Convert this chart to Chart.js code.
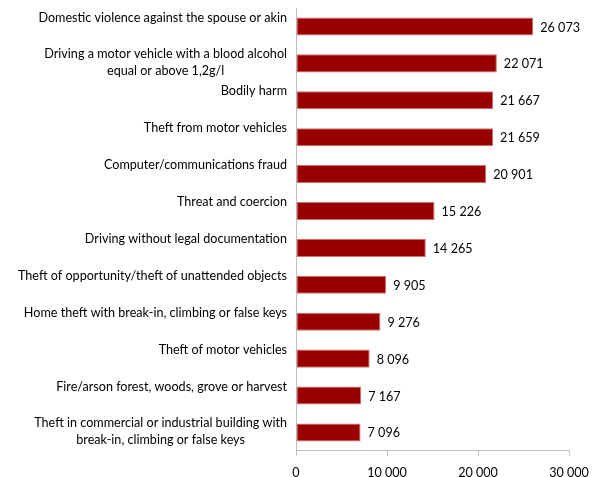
<!DOCTYPE html>
<html>
<head>
<meta charset="utf-8">
<script src="https://cdn.jsdelivr.net/npm/chart.js@4"></script>
<style>
  html, body { margin: 0; padding: 0; background: #fff; }
  #wrap { width: 598px; height: 477px; position: relative; }
</style>
</head>
<body>
<div id="wrap"><canvas id="crimes"></canvas></div>
<script>
let categories = [
    ['Domestic violence against the spouse or akin'],
    ['Driving a motor vehicle with a blood alcohol', 'equal or above 1,2g/l'],
    ['Bodily harm'],
    ['Theft from motor vehicles'],
    ['Computer/communications fraud'],
    ['Threat and coercion'],
    ['Driving without legal documentation'],
    ['Theft of opportunity/theft of unattended objects'],
    ['Home theft with break-in, climbing or false keys'],
    ['Theft of motor vehicles'],
    ['Fire/arson forest, woods, grove or harvest'],
    ['Theft in commercial or industrial building with', 'break-in, climbing or false keys'],
];
let counts = [26073, 22071, 21667, 21659, 20901, 15226, 14265, 9905, 9276, 8096, 7167, 7096];
let xTicks = [0, 10000, 20000, 30000];

const fontFamily = 'Lato, "Open Sans", sans-serif';
const fontSize = 12.6;

function spaced(n) {
    return String(n).replace(/\B(?=(\d{3})+(?!\d))/g, ' ');
}

// category labels: block right aligned next to the axis, lines centred inside it
const sideLabels = {
    id: 'sideLabels',
    afterDraw(chart) {
        const ctx = chart.ctx;
        const yScale = chart.scales.y;
        const right = chart.chartArea.left - 9;
        ctx.save();
        ctx.font = fontSize + 'px ' + fontFamily;
        ctx.fillStyle = '#000';
        ctx.textBaseline = 'middle';
        ctx.textAlign = 'center';
        categories.forEach((lines, i) => {
            const w = Math.max(...lines.map(l => ctx.measureText(l).width));
            const cx = right - w / 2;
            const y0 = yScale.getPixelForTick(i) - 9;
            lines.forEach((l, k) => ctx.fillText(l, cx, y0 + k * 17));
        });
        ctx.restore();
    }
};

// value labels just past the end of each bar
const valueLabels = {
    id: 'valueLabels',
    afterDatasetsDraw(chart) {
        const ctx = chart.ctx;
        const meta = chart.getDatasetMeta(0);
        ctx.save();
        ctx.font = fontSize + 'px ' + fontFamily;
        ctx.fillStyle = '#000';
        ctx.textBaseline = 'middle';
        ctx.textAlign = 'left';
        meta.data.forEach((bar, i) => {
            ctx.fillText(spaced(counts[i]), bar.x + 7, bar.y + 1);
        });
        ctx.restore();
    }
};

new Chart(document.getElementById('crimes'), {
    type: 'bar',
    data: {
        labels: categories.map(c => c.join(' ')),
        datasets: [{
            data: counts,
            backgroundColor: '#990000',
            borderColor: '#d07272',
            borderWidth: 1,
            borderSkipped: false,
            barPercentage: 0.49,
            categoryPercentage: 1,
        }]
    },
    options: {
        indexAxis: 'y',
        responsive: true,
        maintainAspectRatio: false,
        animation: false,
        layout: { padding: { left: 288, right: 29, top: 8, bottom: -12 } },
        plugins: {
            legend: { display: false },
            tooltip: { enabled: false },
        },
        scales: {
            x: {
                min: xTicks[0],
                max: xTicks[xTicks.length - 1],
                afterBuildTicks(scale) {
                    scale.ticks = xTicks.map(v => ({ value: v }));
                },
                grid: {
                    drawOnChartArea: false,
                    color: '#bfbfbf',
                    tickLength: 5,
                },
                border: { color: '#bfbfbf' },
                ticks: {
                    padding: 9,
                    color: '#000',
                    font: { family: fontFamily, size: fontSize },
                    callback: v => spaced(v),
                },
            },
            y: {
                grid: { display: false },
                border: { color: '#bfbfbf' },
                ticks: { display: false },
            },
        },
    },
    plugins: [sideLabels, valueLabels],
});
</script>
</body>
</html>
